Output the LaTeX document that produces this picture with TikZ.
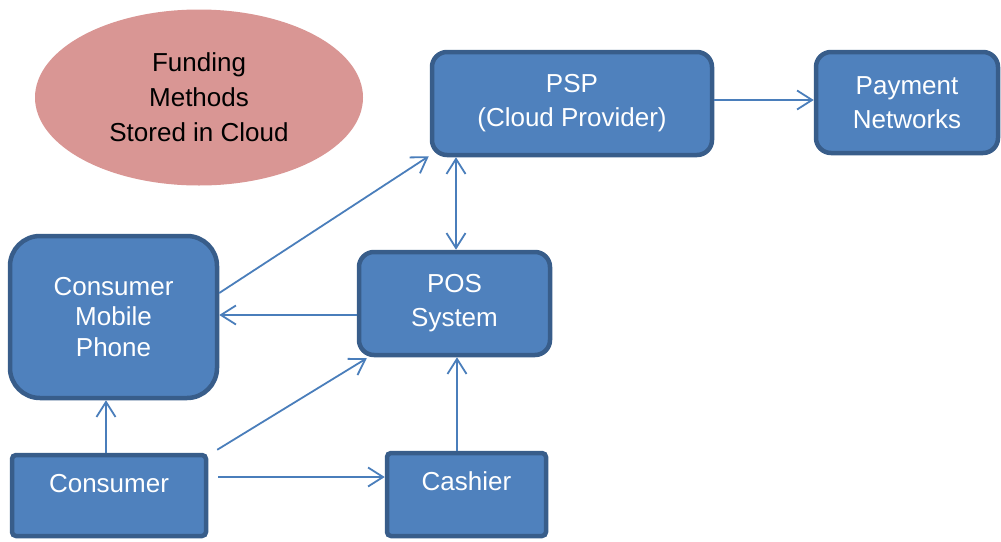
\documentclass[tikz,border=0pt]{standalone}
\usepackage{fontspec}
\setmainfont{Liberation Sans}
\usetikzlibrary{arrows.meta,shapes.geometric}
\definecolor{boxfill}{HTML}{4F81BD}
\definecolor{boxline}{HTML}{385D8A}
\definecolor{arrcol}{HTML}{4A7EBB}
\definecolor{ellfill}{HTML}{D99694}
\begin{document}
\begin{tikzpicture}[x=1pt,y=-1pt,
  box/.style={draw=boxline, fill=boxfill, line width=4.5pt, text=white,
    align=center, inner sep=0pt, font=\fontsize{26}{34}\selectfont},
  arr/.style={draw=arrcol, line width=1.8pt, -{Straight Barb[length=15pt,width=19pt]}},
  arrboth/.style={draw=arrcol, line width=1.8pt, {Straight Barb[length=15pt,width=19pt]}-{Straight Barb[length=15pt,width=19pt]}}
]
\useasboundingbox (0,0) rectangle (1001,541);

\node[ellipse, fill=ellfill, minimum width=328pt, minimum height=176pt, inner sep=0pt,
  align=center, font=\fontsize{26}{35}\selectfont] (fund) at (199,97.5)
  {Funding\\Methods\\Stored in Cloud};

\node[box, rounded corners=15pt, minimum width=280pt, minimum height=103pt] (psp) at (572,103.5)
  {PSP\\(Cloud Provider)};
\node[box, rounded corners=15pt, minimum width=182pt, minimum height=101pt] (pay) at (907,102.5)
  {Payment\\Networks};
\node[box, rounded corners=15pt, minimum width=191pt, minimum height=103pt] (pos) at (454.5,303.5)
  {POS\\System};
\node[box, rounded corners=30pt, minimum width=207pt, minimum height=162pt,
  font=\fontsize{26}{30.5}\selectfont] (phone) at (113.5,317)
  {Consumer\\Mobile\\Phone};
\node[box, rounded corners=4pt, minimum width=194pt, text height=37pt, text depth=44pt] (con) at (109,495.5)
  {Consumer};
\node[box, rounded corners=4pt, minimum width=159pt, text height=37pt, text depth=46pt] (cash) at (466.5,494.5)
  {Cashier};

\draw[arr] ([yshift=3.5pt]psp.east) -- ([yshift=2.5pt]pay.west);
\draw[arr] ([yshift=24pt]phone.east) -- ([xshift=-1pt,yshift=1pt]psp.south west);
\draw[arrboth] ([xshift=-116pt]psp.south) -- ([xshift=1.5pt]pos.north);
\draw[arr] ([yshift=-11.5pt]pos.west) -- ([yshift=2pt]phone.east);
\draw[arr] ([xshift=9pt,yshift=3pt]con.north east) -- ([xshift=10pt,yshift=-1pt]pos.south west);
\draw[arr] ([xshift=-3pt]con.north) -- ([xshift=-7.5pt]phone.south);
\draw[arr] ([xshift=10pt,yshift=18.5pt]con.east) -- ([yshift=17.5pt]cash.west);
\draw[arr] ([xshift=-9.5pt]cash.north) -- ([xshift=2.5pt]pos.south);
\end{tikzpicture}
\end{document}
